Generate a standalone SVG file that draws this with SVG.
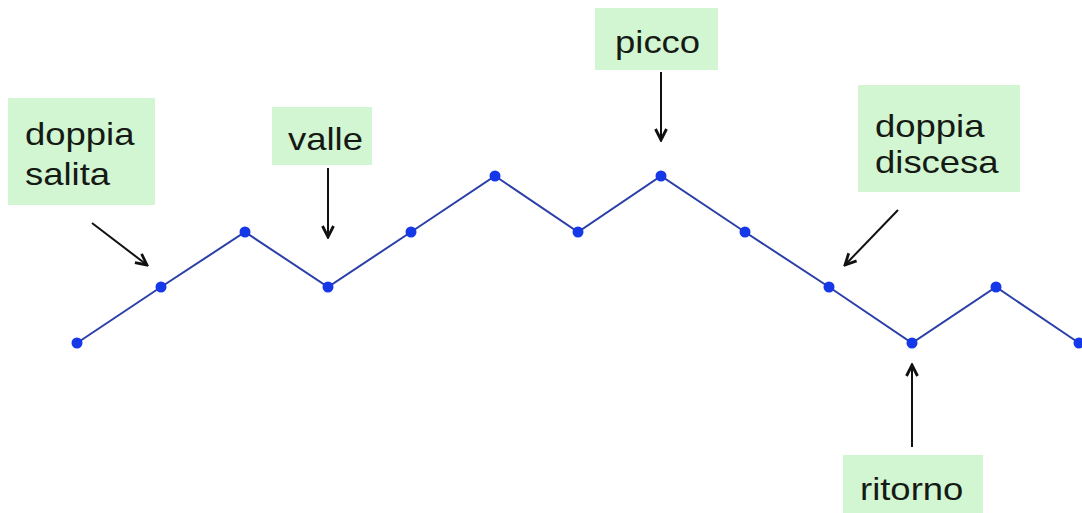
<svg xmlns="http://www.w3.org/2000/svg" width="1082" height="513" viewBox="0 0 1082 513">
<style>
.box{fill:#d2f6d2}
.lbl{font-family:"Liberation Sans",Arial,sans-serif;font-size:32px;fill:#151a15}
.arr{stroke:#111;stroke-width:2;fill:none;marker-end:url(#ah)}
.zig{stroke:#2b3fa8;stroke-width:2;fill:none}
.pt{fill:#1538e8}
</style>
<defs>
<marker id="ah" viewBox="0 0 14 14" refX="12" refY="7" markerWidth="14" markerHeight="14" markerUnits="userSpaceOnUse" orient="auto">
<path d="M1,1.5 L12,7 L1,12.5" stroke="#111" stroke-width="2.8" fill="none"/>
</marker>
</defs>
<rect width="1082" height="513" fill="#fff"/>
<g id="connectors">
<polyline class="zig" points="77,343 161,287 245,232 328,287 411,232 495,176 578,232 661,176 745,232 829,287 912,343 996,287 1079,343"/>
<line class="arr" x1="92" y1="223" x2="147" y2="265"/>
<line class="arr" x1="328" y1="168" x2="328" y2="237"/>
<line class="arr" x1="661" y1="72" x2="661" y2="140"/>
<line class="arr" x1="898" y1="210" x2="845" y2="265"/>
<line class="arr" x1="912" y1="447" x2="912" y2="365"/>
</g>
<g id="points">
<circle class="pt" cx="77" cy="343" r="5.5"/>
<circle class="pt" cx="161" cy="287" r="5.5"/>
<circle class="pt" cx="245" cy="232" r="5.5"/>
<circle class="pt" cx="328" cy="287" r="5.5"/>
<circle class="pt" cx="411" cy="232" r="5.5"/>
<circle class="pt" cx="495" cy="176" r="5.5"/>
<circle class="pt" cx="578" cy="232" r="5.5"/>
<circle class="pt" cx="661" cy="176" r="5.5"/>
<circle class="pt" cx="745" cy="232" r="5.5"/>
<circle class="pt" cx="829" cy="287" r="5.5"/>
<circle class="pt" cx="912" cy="343" r="5.5"/>
<circle class="pt" cx="996" cy="287" r="5.5"/>
<circle class="pt" cx="1079" cy="343" r="5.5"/>
</g>
<g id="doppia-salita">
<rect class="box" x="8" y="98" width="147" height="107"/>
<text class="lbl" transform="translate(25,145) scale(1.14,1)">doppia</text>
<text class="lbl" transform="translate(25,185) scale(1.14,1)">salita</text>
</g>
<g id="valle">
<rect class="box" x="272" y="107" width="100" height="58"/>
<text class="lbl" transform="translate(288,150) scale(1.14,1)">valle</text>
</g>
<g id="picco">
<rect class="box" x="595" y="8" width="123" height="62"/>
<text class="lbl" transform="translate(615,53) scale(1.14,1)">picco</text>
</g>
<g id="doppia-discesa">
<rect class="box" x="858" y="85" width="162" height="107"/>
<text class="lbl" transform="translate(875,137) scale(1.14,1)">doppia</text>
<text class="lbl" transform="translate(875,173) scale(1.14,1)">discesa</text>
</g>
<g id="ritorno">
<rect class="box" x="843" y="455" width="140" height="58"/>
<text class="lbl" transform="translate(860,500) scale(1.14,1)">ritorno</text>
</g>
</svg>
